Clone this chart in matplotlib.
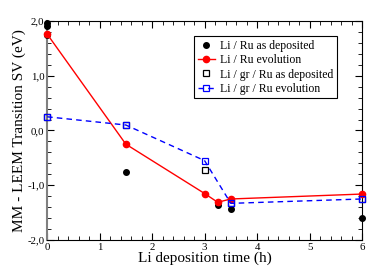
import matplotlib
matplotlib.use("Agg")
import matplotlib.pyplot as plt
from matplotlib.ticker import MultipleLocator, FuncFormatter

plt.rcParams['font.family'] = ['Liberation Serif', 'DejaVu Serif']

# Li / Ru as deposited
ru_dep_x = [0, 0, 0, 1.5, 3.25, 3.5, 6]
ru_dep_y = [1.97, 1.90, 1.74, -0.75, -1.36, -1.44, -1.59]
# Li / Ru evolution
ru_evo_x = [0, 1.5, 3, 3.25, 3.5, 6]
ru_evo_y = [1.76, -0.25, -1.15, -1.31, -1.25, -1.16]
# Li / gr / Ru as deposited
gr_dep_x = [0, 1.5, 3, 3.5, 6]
gr_dep_y = [0.25, 0.10, -0.72, -1.33, -1.25]
# Li / gr / Ru evolution
gr_evo_x = [0, 1.5, 3, 3.5, 6]
gr_evo_y = [0.25, 0.10, -0.55, -1.33, -1.25]

fig = plt.figure(figsize=(3.74, 2.75), dpi=100)
ax = fig.add_axes([0.126, 0.127, 0.842, 0.797])

ax.plot(ru_dep_x, ru_dep_y, 'o', color='black', ms=4, ls='none',
        label='Li / Ru as deposited', clip_on=False, zorder=3)
ax.plot(ru_evo_x, ru_evo_y, '-o', color='red', ms=4.5, lw=1,
        label='Li / Ru evolution', clip_on=False, zorder=4)
ax.plot(gr_dep_x, gr_dep_y, 's', mfc='none', mec='black', ms=4.5, mew=0.9, ls='none',
        label='Li / gr / Ru as deposited', clip_on=False, zorder=3)
ax.plot(gr_evo_x, gr_evo_y, '--s', color='blue', mfc='none', mec='blue', ms=5, mew=0.9, lw=1,
        dashes=(4, 3), label='Li / gr / Ru evolution', clip_on=False, zorder=5)

ax.set_xlim(0, 6)
ax.set_ylim(-2, 2)
ax.xaxis.set_major_locator(MultipleLocator(1))
ax.xaxis.set_minor_locator(MultipleLocator(0.2))
ax.yaxis.set_major_locator(MultipleLocator(1))
ax.yaxis.set_minor_locator(MultipleLocator(0.2))
ax.yaxis.set_major_formatter(FuncFormatter(lambda v, p: ('%.1f' % v).replace('.', ',')))
ax.tick_params(which='both', direction='in', top=True, right=True, labelsize=7.8, pad=2)
ax.tick_params(which='major', length=5)
ax.tick_params(which='minor', length=3)
ax.spines['left'].set_color('gray')
ax.spines['left'].set_linewidth(1.5)

ax.set_xlabel('Li deposition time (h)', fontsize=11, labelpad=0)
ax.set_ylabel('MM - LEEM Transition SV (eV)', fontsize=11, labelpad=1)

leg = ax.legend(loc='upper right', bbox_to_anchor=(0.92, 0.93), fontsize=8.5,
                fancybox=False, edgecolor='black', framealpha=1,
                handlelength=1.5, handletextpad=0.4, borderpad=0.3, labelspacing=0.2,
                borderaxespad=0)
leg.get_frame().set_linewidth(0.8)

fig.savefig('out.png', dpi=100)
